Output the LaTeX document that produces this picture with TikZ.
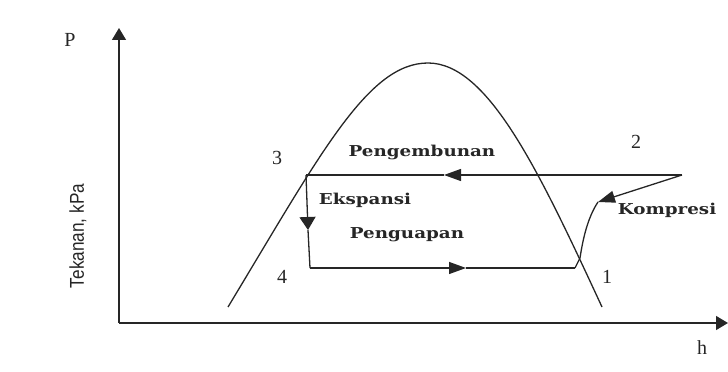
\documentclass[tikz,border=0pt]{standalone}
\usepackage{fontspec}
\setmainfont{Liberation Serif}
\newfontfamily\stagefont{DejaVu Serif}[FakeStretch=1.22]
\newfontfamily\axisfont{Liberation Sans}[FakeStretch=0.86]
\usetikzlibrary{arrows.meta}

\begin{document}
\begin{tikzpicture}[x=1pt, y=1pt, line width=1.3pt, color=black!85,
    axisarrow/.style={-{Triangle[length=12pt,width=14pt]}},
    flow/.style={-{Triangle[length=17pt,width=12pt]}},
    flowdown/.style={-{Triangle[length=13pt,width=16pt]}},
    stage/.style={font=\stagefont\bfseries\fontsize{15}{17}\selectfont, inner sep=0pt},
    pointlabel/.style={font=\fontsize{20}{22}\selectfont, inner sep=0pt}]
  \useasboundingbox (0,0) rectangle (728,372);

  % Sumbu
  \coordinate (O) at (119,49);
  \coordinate (Ptip) at (119,344);
  \coordinate (htip) at (728,49);
  \draw[axisarrow] (O) -- (Ptip);
  \draw[axisarrow] (O) -- (htip);
  \node[pointlabel] (Plabel) at (70,332) {P};
  \node[pointlabel] (hlabel) at (702,24) {h};
  \node[font=\axisfont\fontsize{20}{22}\selectfont, rotate=90, inner sep=0pt] (ylabel) at (78,136) {Tekanan, kPa};

  % Kubah jenuh
  \draw (228,65) .. controls (321,219) and (368,309) .. (428,309)
                 .. controls (488,309) and (539,201) .. (602,65);

  % Titik siklus
  \coordinate (p1) at (575,104);
  \coordinate (p2) at (682,197);
  \coordinate (p3) at (306,197);
  \coordinate (p4) at (310,104);
  \coordinate (topmid) at (444,197);
  \coordinate (downmid) at (308,142);
  \coordinate (botmid) at (466,104);
  \coordinate (komp) at (598,170);

  % Pengembunan 2 -> 3
  \draw[flow] (p2) -- (topmid);
  \draw (topmid) -- (p3);
  % Ekspansi 3 -> 4
  \draw[flowdown] (p3) -- (downmid);
  \draw (downmid) -- (p4);
  % Penguapan 4 -> 1
  \draw[flow] (p4) -- (botmid);
  \draw (botmid) -- (p1);
  % Kompresi 1 -> 2
  \draw (p1) -- (580,114) .. controls (583,134) and (588,155) .. (komp);
  \draw[flow] (p2) -- (komp);

  % Label
  \node[pointlabel] (n1) at (607,95) {1};
  \node[pointlabel] (n2) at (636,230) {2};
  \node[pointlabel] (n3) at (277,214) {3};
  \node[pointlabel] (n4) at (282,95) {4};
  \node[stage] (kondensasi) at (422,220) {Pengembunan};
  \node[stage] (ekspansi) at (365,172) {Ekspansi};
  \node[stage] (evaporasi) at (407,137) {Penguapan};
  \node[stage] (kompresi) at (667,162) {Kompresi};
\end{tikzpicture}
\end{document}
